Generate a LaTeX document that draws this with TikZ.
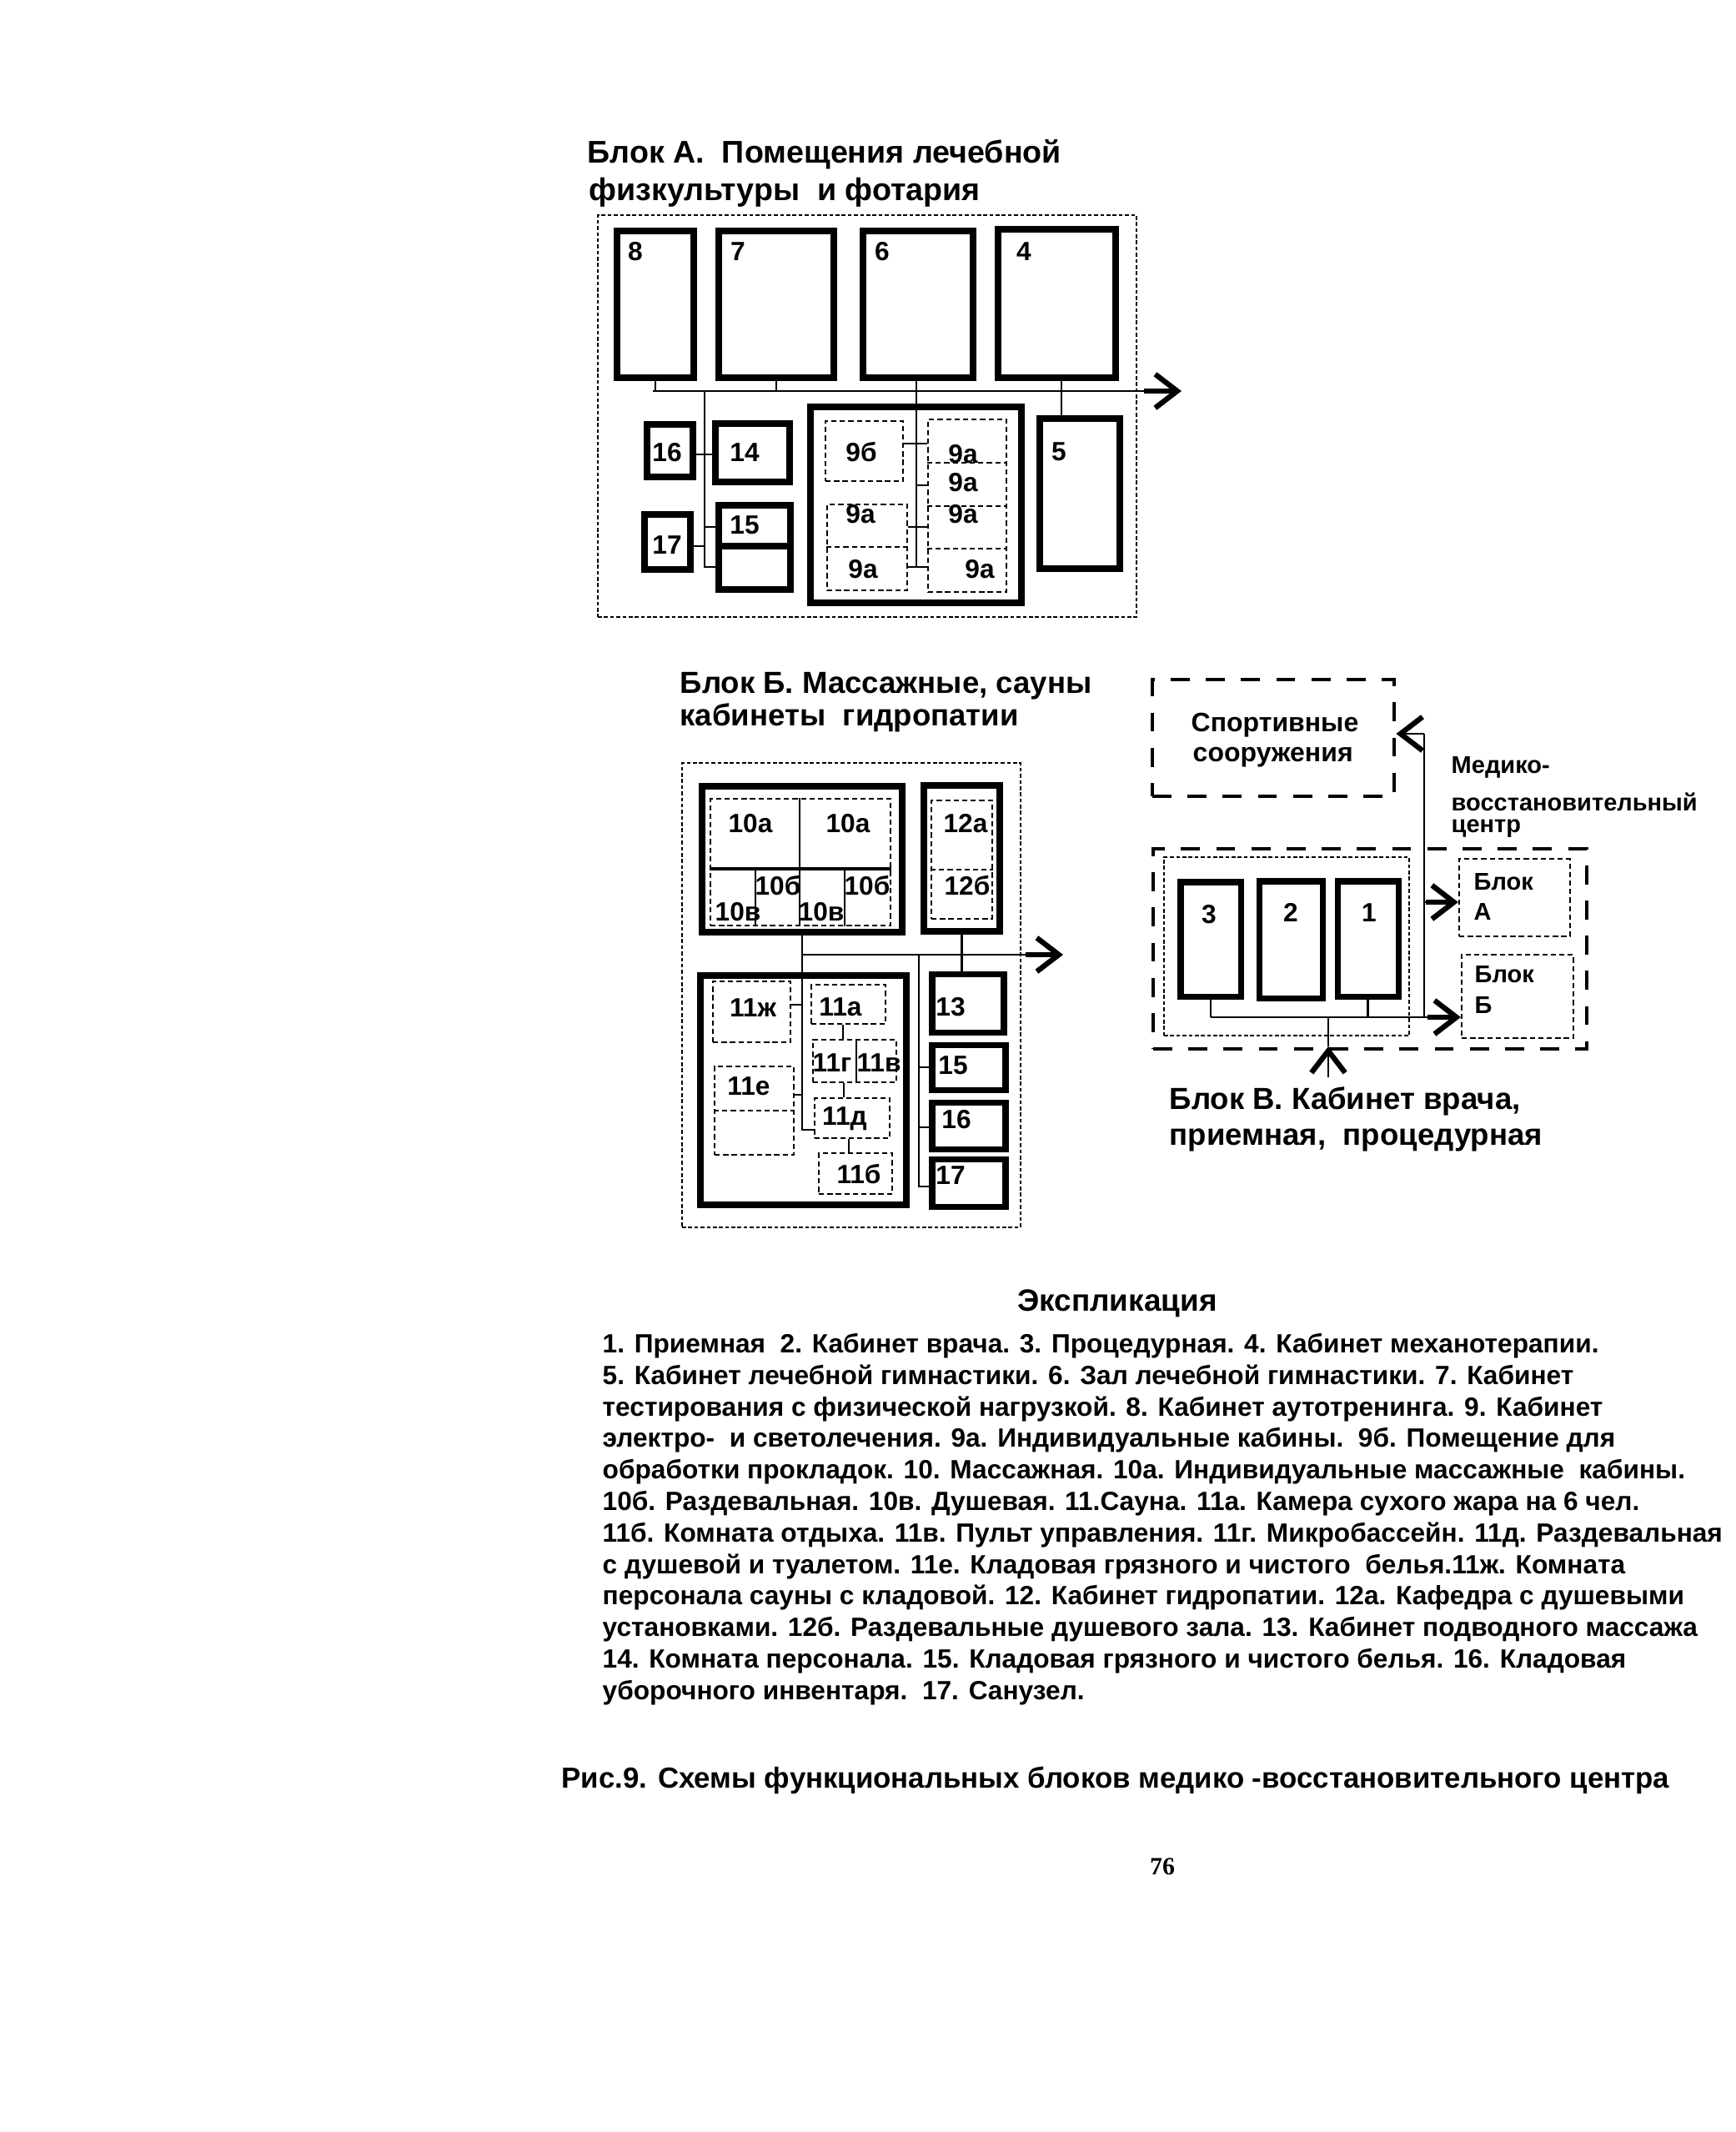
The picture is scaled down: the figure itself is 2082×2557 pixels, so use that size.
\documentclass[tikz,border=0pt]{standalone}
\usepackage{fontspec}
\setmainfont{Liberation Sans}
\newfontfamily\pagefont{Liberation Serif}
\usetikzlibrary{arrows.meta,fit,calc}
\begin{document}
\begin{tikzpicture}[x=0.01cm,y=-0.01cm,
  room/.style={draw, line width=2pt, inner sep=0pt},
  bigroom/.style={draw, line width=2.3pt, inner sep=0pt},
  sub/.style={draw, line width=0.6pt, dash pattern=on 1.8pt off 1.1pt, inner sep=0pt},
  subline/.style={line width=0.6pt, dash pattern=on 1.8pt off 1.1pt},
  blk/.style={draw, line width=0.6pt, dash pattern=on 1.3pt off 0.8pt, inner sep=0pt},
  zone/.style={draw, line width=1.4pt, dash pattern=on 6.5pt off 5.5pt, inner sep=0pt},
  corr/.style={line width=0.75pt},
  shaft/.style={line width=1.5pt},
  arr/.style={corr, -{Straight Barb[length=7.5pt,width=11.5pt,line width=1.8pt]}},
  lab/.style={font=\bfseries\fontsize{9}{10}\selectfont, inner sep=0pt, anchor=base},
  ttl/.style={font=\bfseries\fontsize{10.4}{12}\selectfont, inner sep=0pt, anchor=base west},
  sml/.style={font=\bfseries\fontsize{8.25}{9}\selectfont, inner sep=0pt, anchor=base west},
  spt/.style={font=\bfseries\fontsize{9.1}{10}\selectfont, inner sep=0pt, anchor=base west},
  txt/.style={font=\bfseries\fontsize{9}{10}\selectfont, inner sep=0pt, anchor=base west},
]
\fill[white] (0,0) rectangle (2082,2557);
\useasboundingbox (0,0) rectangle (2082,2557);

% ================= Block A =================
\node[ttl, font=\bfseries\fontsize{10.7}{12}\selectfont] (tA1) at (704,195) {Блок А.\ \ Помещения лечебной};
\node[ttl, font=\bfseries\fontsize{10.7}{12}\selectfont] (tA2) at (706,240) {физкультуры\ \ и фотария};
\node[blk, fit={(717,258) (1363,740)}] (blkA) {};

\node[room, fit={(740,277) (832,453)}] (r8) {};
\node[room, fit={(862,277) (1000,453)}] (r7) {};
\node[room, fit={(1035,277) (1167,453)}] (r6) {};
\node[room, fit={(1197,275) (1338,453)}] (r4) {};
\node[room, fit={(776,509) (831,572)}] (r16) {};
\node[room, fit={(858,508) (947,578)}] (r14) {};
\node[room, fit={(773,617) (828,683)}] (r17) {};
\node[room, fit={(862,606) (948,707)}] (r15) {};
\draw[room] (r15.west |- 0,655) -- (r15.east |- 0,655);
\node[room, fit={(1247,502) (1343,682)}] (r5) {};
\node[bigroom, fit={(972,488) (1225,723)}] (r9) {};
\node[sub, fit={(990,505) (1083,577)}] (r9b) {};
\node[sub, fit={(992,605) (1088,708)}] (r9L) {};
\draw[subline] (r9L.west |- 0,656) -- (r9L.east |- 0,656);
\node[sub, fit={(1113,503) (1207,710)}] (r9R) {};
\draw[subline] (r9R.west |- 0,555) -- (r9R.east |- 0,555);
\draw[subline] (r9R.west |- 0,607) -- (r9R.east |- 0,607);
\draw[subline] (r9R.west |- 0,658) -- (r9R.east |- 0,658);

\node[lab] (l8) at (762,312) {8};
\node[lab] (l7) at (885,312) {7};
\node[lab] (l6) at (1058,312) {6};
\node[lab] (l4) at (1228,312) {4};
\node[lab] (l16) at (800,553) {16};
\node[lab] (l14) at (893,553) {14};
\node[lab] (l17) at (800,664) {17};
\node[lab] (l15) at (893,640) {15};
\node[lab] (l5) at (1270,552) {5};
\node[lab] (l9b) at (1033,553) {9б};
\node[lab] (l9a1) at (1032,627) {9а};
\node[lab] (l9a2) at (1035,693) {9а};
\node[lab] (l9a3) at (1155,555) {9а};
\node[lab] (l9a4) at (1155,589) {9а};
\node[lab] (l9a5) at (1155,627) {9а};
\node[lab] (l9a6) at (1175,693) {9а};

% corridor A
\coordinate (cA0) at (783,469);
\coordinate (cA1) at (1417,469);
\draw[arr] (cA0) -- (cA1);
\draw[shaft] (1372,469) -- (1408,469);
\draw[corr] (r8.south) -- (r8.south |- cA0);
\draw[corr] (r7.south) -- (r7.south |- cA0);
\coordinate (t45) at (1273,469);
\draw[corr] (t45 |- r4.south) -- (t45 |- r5.north);
% spine room 9
\coordinate (s9) at (1099,680);
\draw[corr] (s9 |- r6.south) -- (s9);
\draw[corr] (r9b.east |- 0,532) -- (r9R.west |- 0,532);
\draw[corr] (s9 |- 0,582) -- (r9R.west |- 0,582);
\draw[corr] (r9L.east |- 0,632) -- (r9R.west |- 0,632);
\draw[corr] (r9L.east |- 0,680) -- (r9R.west |- 0,680);
% left spine
\coordinate (sL) at (845,469);
\coordinate (sLb) at (845,680);
\draw[corr] (sL) -- (sLb) -- (sLb -| r15.west);
\draw[corr] (r16.east |- 0,545) -- (r14.west |- 0,545);
\draw[corr] (sL |- 0,632) -- (r15.west |- 0,632);
\draw[corr] (r17.east |- 0,655) -- (sL |- 0,655);

% ================= Block B =================
\node[ttl] (tB1) at (815,831) {Блок Б. Массажные, сауны};
\node[ttl] (tB2) at (815,870) {кабинеты\ \ гидропатии};
\node[blk, fit={(818,915) (1224,1472)}] (blkB) {};

\node[bigroom, fit={(842,943) (1082,1118)}] (r10) {};
\node[sub, fit={(852,958) (1068,1110)}] (i10) {};
\draw[line width=1pt] (i10.west |- 0,1042) -- (i10.east |- 0,1042);
\draw[corr] (959,0 |- i10.north) -- (959,0 |- i10.south);
\draw[corr] (906,1042) -- (906,0 |- i10.south);
\draw[corr] (1013,1042) -- (1013,0 |- i10.south);
\node[bigroom, fit={(1108,942) (1199,1117)}] (r12) {};
\node[sub, fit={(1117,960) (1190,1102)}] (i12) {};
\draw[subline] (i12.west |- 0,1043) -- (i12.east |- 0,1043);

\node[lab] (l10a1) at (900,998) {10а};
\node[lab] (l10a2) at (1017,998) {10а};
\node[lab] (l10b1) at (933,1073) {10б};
\node[lab] (l10b2) at (1040,1073) {10б};
\node[lab] (l10v1) at (885,1104) {10в};
\node[lab] (l10v2) at (985,1104) {10в};
\node[lab] (l12a) at (1158,998) {12а};
\node[lab] (l12b) at (1160,1073) {12б};

\node[bigroom, fit={(840,1170) (1087,1445)}] (r11) {};
\node[sub, fit={(855,1177) (948,1250)}] (s11zh) {};
\node[sub, fit={(973,1181) (1062,1228)}] (s11a) {};
\node[sub, fit={(975,1247) (1075,1298)}] (s11gv) {};
\draw[corr] (1027,0 |- s11gv.north) -- (1027,0 |- s11gv.south);
\node[sub, fit={(977,1317) (1067,1365)}] (s11d) {};
\node[sub, fit={(982,1383) (1070,1432)}] (s11b) {};
\node[sub, fit={(857,1279) (952,1385)}] (s11e) {};
\draw[subline] (s11e.west |- 0,1332) -- (s11e.east |- 0,1332);

\node[lab] (l11zh) at (903,1219) {11ж};
\node[lab] (l11a) at (1008,1218) {11а};
\node[lab] (l11g) at (998,1285) {11г};
\node[lab] (l11v) at (1054,1285) {11в};
\node[lab] (l11d) at (1013,1349) {11д};
\node[lab] (l11b) at (1030,1419) {11б};
\node[lab] (l11e) at (898,1313) {11е};

\node[room, fit={(1118,1168) (1204,1238)}] (r13) {};
\node[room, fit={(1118,1253) (1206,1307)}] (rB15) {};
\node[room, fit={(1118,1322) (1206,1378)}] (rB16) {};
\node[room, fit={(1118,1390) (1206,1447)}] (rB17) {};
\node[lab] (l13) at (1140,1218) {13};
\node[lab] (lB15) at (1143,1288) {15};
\node[lab] (lB16) at (1147,1353) {16};
\node[lab] (lB17) at (1140,1420) {17};

% corridor B
\coordinate (cB0) at (962,1145);
\coordinate (cB1) at (1275,1145);
\draw[arr] (cB0) -- (cB1);
\draw[shaft] (1230,1145) -- (1266,1145);
\coordinate (sBb) at (962,1355);
\draw[corr] (sBb |- r10.south) -- (sBb) -- (sBb -| s11d.west);
\draw[corr] (s11zh.east |- 0,1205) -- (sBb |- 0,1205);
\draw[corr] (s11e.east |- 0,1313) -- (sBb |- 0,1313);
\draw[corr] (1011,0 |- s11a.south) -- (1011,0 |- s11gv.north);
\draw[corr] (1012,0 |- s11gv.south) -- (1012,0 |- s11d.north);
\draw[corr] (1018,0 |- s11d.south) -- (1018,0 |- s11b.north);
\draw[corr] (r12.south) -- (r12.south |- r13.north);
\coordinate (sR) at (1102,1145);
\coordinate (sRb) at (1102,1423);
\draw[corr] (sR) -- (sRb) -- (sRb -| rB17.west);
\draw[corr] (sR |- 0,1280) -- (rB15.west |- 0,1280);
\draw[corr] (sR |- 0,1352) -- (rB16.west |- 0,1352);

% ================= Block V =================
\node[zone, fit={(1382,815) (1672,955)}] (sport) {};
\node[spt] (tS1) at (1428,877) {Спортивные};
\node[spt] (tS2) at (1430,913) {сооружения};
\node[sml] (tM1) at (1740,927) {Медико-};
\node[sml] (tM2) at (1740,972) {восстановительный};
\node[sml] (tM3) at (1740,998) {центр};

\node[zone, fit={(1383,1018) (1903,1258)}] (blkV) {};
\node[blk, fit={(1396,1028) (1690,1242)}] (iV) {};
\node[room, fit={(1416,1058) (1488,1195)}] (rV3) {};
\node[room, fit={(1510,1057) (1586,1197)}] (rV2) {};
\node[room, fit={(1604,1057) (1677,1195)}] (rV1) {};
\node[lab] (lV3) at (1450,1107) {3};
\node[lab] (lV2) at (1548,1105) {2};
\node[lab] (lV1) at (1642,1105) {1};
\node[sub, fit={(1750,1030) (1883,1123)}] (bA) {};
\node[sub, fit={(1753,1145) (1887,1245)}] (bB) {};
\node[sml] (tbA1) at (1767,1067) {Блок};
\node[sml] (tbA2) at (1767,1103) {А};
\node[sml] (tbB1) at (1768,1178) {Блок};
\node[sml] (tbB2) at (1768,1215) {Б};

\coordinate (cV) at (1455,1220);
\draw[corr] (rV3.south) -- (rV3.south |- cV);
\draw[corr] (rV1.south) -- (rV1.south |- cV);
\draw[arr] (rV3.south |- cV) -- (bB.west |- cV);
\draw[shaft] (1712,1220) -- (1746,1220);
\coordinate (vV) at (1708,880);
\draw[corr] (vV) -- (vV |- cV);
\draw[arr] (vV) -- (sport.east |- vV);
\draw[arr] (vV |- 0,1082) -- (bA.west |- 0,1082);
\draw[shaft] (1710,1082) -- (1745,1082);
\coordinate (eV) at (1593,1292);
\coordinate (eVt) at (1593,1255);
\draw[arr] (eV) -- (eVt);
\draw[corr] (eVt) -- (eVt |- cV);
\node[ttl] (tV1) at (1402,1330) {Блок В. Кабинет врача,};
\node[ttl] (tV2) at (1402,1373) {приемная,\ \ процедурная};

% ================= Explication =================
\node[font=\bfseries\fontsize{10.5}{12}\selectfont, inner sep=0pt, anchor=base] (eh) at (1340,1572) {Экспликация};
\node[txt] (e1) at (722,1622) {1. Приемная\ \ 2. Кабинет врача. 3. Процедурная. 4. Кабинет механотерапии.};
\node[txt] (e2) at (722,1660) {5. Кабинет лечебной гимнастики. 6. Зал лечебной гимнастики. 7. Кабинет};
\node[txt] (e3) at (722,1698) {тестирования с физической нагрузкой. 8. Кабинет аутотренинга. 9. Кабинет};
\node[txt] (e4) at (722,1735) {электро-\ \ и светолечения. 9а. Индивидуальные кабины.\ \ 9б. Помещение для};
\node[txt] (e5) at (722,1773) {обработки прокладок. 10. Массажная. 10а. Индивидуальные массажные\ \ кабины.};
\node[txt] (e6) at (722,1811) {10б. Раздевальная. 10в. Душевая. 11.Сауна. 11а. Камера сухого жара на 6 чел.};
\node[txt] (e7) at (722,1849) {11б. Комната отдыха. 11в. Пульт управления. 11г. Микробассейн. 11д. Раздевальная};
\node[txt] (e8) at (722,1887) {с душевой и туалетом. 11е. Кладовая грязного и чистого\ \ белья.11ж. Комната};
\node[txt] (e9) at (722,1924) {персонала сауны с кладовой. 12. Кабинет гидропатии. 12а. Кафедра с душевыми};
\node[txt] (e10) at (722,1962) {установками. 12б. Раздевальные душевого зала. 13. Кабинет подводного массажа};
\node[txt] (e11) at (722,2000) {14. Комната персонала. 15. Кладовая грязного и чистого белья. 16. Кладовая};
\node[txt] (e12) at (722,2038) {уборочного инвентаря.\ \ 17. Санузел.};

\node[font=\bfseries\fontsize{9.9}{11}\selectfont, inner sep=0pt, anchor=base west] (cap) at (673,2144) {Рис.9. Схемы функциональных блоков медико -восстановительного центра};
\node[font=\pagefont\bfseries\fontsize{8.5}{10}\selectfont, inner sep=0pt, anchor=base] (pg) at (1394,2248) {76};
\end{tikzpicture}
\end{document}
